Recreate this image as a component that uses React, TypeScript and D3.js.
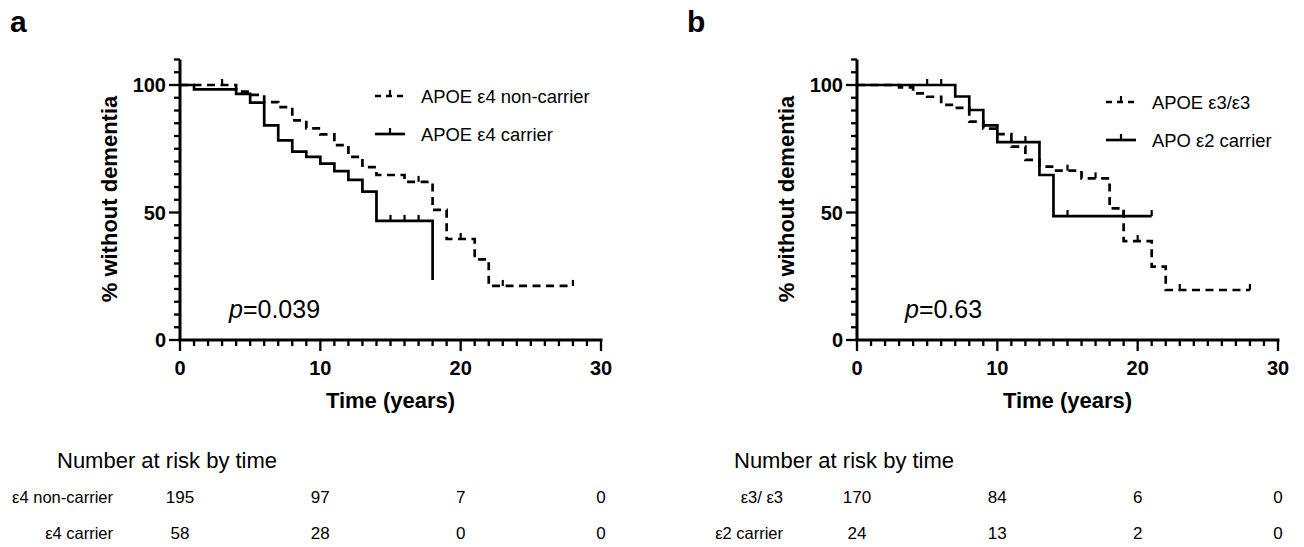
import React from "react";
import * as d3 from "d3";

// ---------- DATA ----------
// Panel a
const aNonCarrierT = [0, 4, 5, 6, 7, 8, 9, 10, 11, 12, 13, 14, 16, 18, 19, 21, 22, 28];
const aNonCarrierS = [100, 97.4, 96.1, 93.3, 91.3, 86.1, 83, 80.6, 76.4, 71.8, 67.8, 64.7, 62, 51, 39.6, 31.6, 21.2, 21.2];
const aNonCarrierCensor = [3, 17, 20, 23, 28];
const aCarrierT = [0, 1, 4, 5, 6, 7, 8, 9, 10, 11, 12, 13, 14, 18];
const aCarrierS = [100, 98.3, 96.5, 93.1, 84.2, 78.3, 73.9, 71.8, 69.2, 66.2, 62.8, 58.2, 46.7, 23.5];
const aCarrierCensor = [15, 16, 17];

// Panel b
const bE3T = [0, 3, 4, 5, 6, 7, 8, 9, 10, 11, 12, 13, 14, 16, 18, 19, 21, 22, 28];
const bE3S = [100, 99.1, 96.7, 95.4, 92.2, 91, 85.6, 82.9, 80.7, 75.8, 70.6, 68, 66.4, 63.4, 51.6, 38.8, 28.8, 19.6, 19.6];
const bE3Censor = [15, 17, 20, 23, 28];
const bE2T = [0, 7, 8, 9, 10, 13, 14, 21];
const bE2S = [100, 95.5, 90.2, 84.2, 77.6, 64.7, 48.6, 48.6];
const bE2Censor = [5, 6, 12, 15, 19, 21];

// Axis ticks
const xMajorTicks = [0, 10, 20, 30];
const yMajorTicks = [0, 50, 100];

// At-risk tables
const riskTimes = [0, 10, 20, 30];
const aRiskLabels = ["ε4 non-carrier", "ε4 carrier"];
const aRiskNonCarrier = [195, 97, 7, 0];
const aRiskCarrier = [58, 28, 0, 0];
const bRiskLabels = ["ε3/ ε3", "ε2 carrier"];
const bRiskE3 = [170, 84, 6, 0];
const bRiskE2 = [24, 13, 2, 0];

const aLegend = ["APOE ε4 non-carrier", "APOE ε4 carrier"];
const bLegend = ["APOE ε3/ε3", "APO ε2 carrier"];

const FONT = "'Liberation Sans', Arial, Helvetica, sans-serif";

type Series = { t: number[]; s: number[]; censor: number[]; dashed: boolean };

function valueAt(t: number[], s: number[], time: number) {
  let v = s[0];
  for (let i = 0; i < t.length; i++) if (t[i] <= time) v = s[i];
  return v;
}

function Panel(props: {
  dx: number;
  letter: string;
  series: Series[];
  legend: string[];
  legendX: number;
  legendY: number[];
  pText: string;
  pX: number;
  riskLabels: string[];
  riskRows: number[][];
  riskLabelRight: number;
}) {
  const { dx } = props;
  const x = d3.scaleLinear().domain([0, 30]).range([180 + dx, 601 + dx]);
  const y = d3.scaleLinear().domain([0, 100]).range([340, 85]);
  const line = d3
    .line<[number, number]>()
    .x((d) => x(d[0]))
    .y((d) => y(d[1]))
    .curve(d3.curveStepAfter);
  const xMinor = d3.range(0, 31, 1);
  const yMinor = d3.range(0, 111, 5);
  const sw = 2.7;
  const dash = "8,5.5";
  return (
    <g>
      <text x={10 + dx} y={32} fontFamily={FONT} fontWeight="bold" fontSize={30}>
        {props.letter}
      </text>
      {/* axes */}
      <line x1={x(0)} x2={x(0)} y1={y(110)} y2={y(0)} stroke="#000" strokeWidth={3} />
      <line x1={x(0) - 1.5} x2={x(30) + 1.5} y1={y(0)} y2={y(0)} stroke="#000" strokeWidth={3} />
      {yMinor.map((v) => (
        <line
          key={"ym" + v}
          x1={x(0)}
          x2={x(0) - (yMajorTicks.includes(v) ? 11 : 6)}
          y1={y(v)}
          y2={y(v)}
          stroke="#000"
          strokeWidth={2.3}
        />
      ))}
      {xMinor.map((v) => (
        <line
          key={"xm" + v}
          x1={x(v)}
          x2={x(v)}
          y1={y(0)}
          y2={y(0) + (xMajorTicks.includes(v) ? 11 : 6)}
          stroke="#000"
          strokeWidth={2.3}
        />
      ))}
      {yMajorTicks.map((v) => (
        <text
          key={"yl" + v}
          x={x(0) - 14}
          y={y(v) + 7}
          textAnchor="end"
          fontFamily={FONT}
          fontWeight="bold"
          fontSize={20}
        >
          {v}
        </text>
      ))}
      {xMajorTicks.map((v) => (
        <text
          key={"xl" + v}
          x={x(v)}
          y={375}
          textAnchor="middle"
          fontFamily={FONT}
          fontWeight="bold"
          fontSize={20}
        >
          {v}
        </text>
      ))}
      <text
        x={(x(0) + x(30)) / 2}
        y={408}
        textAnchor="middle"
        fontFamily={FONT}
        fontWeight="bold"
        fontSize={22}
      >
        Time (years)
      </text>
      <text
        transform={`translate(${117 + dx},199) rotate(-90)`}
        textAnchor="middle"
        fontFamily={FONT}
        fontWeight="bold"
        fontSize={22}
      >
        % without dementia
      </text>
      {/* curves */}
      {props.series.map((se, i) => {
        const pts: [number, number][] = se.t.map((t, j) => [t, se.s[j]]);
        return (
          <g key={"s" + i}>
            <path
              d={line(pts) || ""}
              fill="none"
              stroke="#000"
              strokeWidth={sw}
              strokeDasharray={se.dashed ? dash : undefined}
            />
            {se.censor.map((c) => {
              const v = valueAt(se.t, se.s, c);
              return (
                <line
                  key={"c" + c}
                  x1={x(c)}
                  x2={x(c)}
                  y1={y(v)}
                  y2={y(v) - 6}
                  stroke="#000"
                  strokeWidth={2.2}
                />
              );
            })}
          </g>
        );
      })}
      {/* legend */}
      {props.series.map((se, i) => (
        <g key={"lg" + i}>
          <line
            x1={props.legendX}
            x2={props.legendX + 30}
            y1={props.legendY[i]}
            y2={props.legendY[i]}
            stroke="#000"
            strokeWidth={sw}
            strokeDasharray={se.dashed ? "6,5" : undefined}
          />
          <line
            x1={props.legendX + 15}
            x2={props.legendX + 15}
            y1={props.legendY[i]}
            y2={props.legendY[i] - 6}
            stroke="#000"
            strokeWidth={2.2}
          />
          <text
            x={props.legendX + 46}
            y={props.legendY[i] + 6.5}
            fontFamily={FONT}
            fontSize={18.4}
          >
            {props.legend[i]}
          </text>
        </g>
      ))}
      {/* p value */}
      <text x={props.pX} y={318} fontFamily={FONT} fontSize={25}>
        <tspan fontStyle="italic">p</tspan>
        <tspan>{props.pText}</tspan>
      </text>
      {/* at-risk table */}
      <text x={57 + dx} y={468} fontFamily={FONT} fontSize={22}>
        Number at risk by time
      </text>
      {props.riskRows.map((row, r) => (
        <g key={"rr" + r}>
          <text
            x={props.riskLabelRight}
            y={503 + r * 36}
            textAnchor="end"
            fontFamily={FONT}
            fontSize={16.5}
          >
            {props.riskLabels[r]}
          </text>
          {row.map((v, k) => (
            <text
              key={"rv" + k}
              x={x(riskTimes[k])}
              y={503 + r * 36}
              textAnchor="middle"
              fontFamily={FONT}
              fontSize={17}
            >
              {v}
            </text>
          ))}
        </g>
      ))}
    </g>
  );
}

export default function App() {
  return (
    <svg
      width={1304}
      height={547}
      style={{ position: "absolute", left: 0, top: 0, background: "#fff" }}
    >
      <rect width={1304} height={547} fill="#fff" />
      <Panel
        dx={0}
        letter="a"
        series={[
          { t: aNonCarrierT, s: aNonCarrierS, censor: aNonCarrierCensor, dashed: true },
          { t: aCarrierT, s: aCarrierS, censor: aCarrierCensor, dashed: false },
        ]}
        legend={aLegend}
        legendX={375}
        legendY={[96, 134]}
        pText="=0.039"
        pX={229}
        riskLabels={aRiskLabels}
        riskRows={[aRiskNonCarrier, aRiskCarrier]}
        riskLabelRight={113}
      />
      <Panel
        dx={677}
        letter="b"
        series={[
          { t: bE3T, s: bE3S, censor: bE3Censor, dashed: true },
          { t: bE2T, s: bE2S, censor: bE2Censor, dashed: false },
        ]}
        legend={bLegend}
        legendX={1106}
        legendY={[102, 140]}
        pText="=0.63"
        pX={905}
        riskLabels={bRiskLabels}
        riskRows={[bRiskE3, bRiskE2]}
        riskLabelRight={783}
      />
    </svg>
  );
}
